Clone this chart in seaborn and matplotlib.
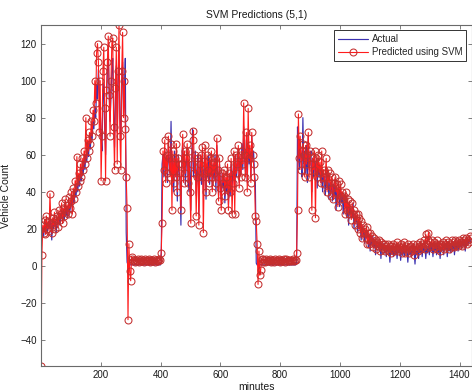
import numpy as np
import matplotlib
matplotlib.use("Agg")
import matplotlib.pyplot as plt
import seaborn as sns

# ---------------- data (sampled every 3 minutes) ----------------
morning_actual = [10, 17, 21, 16, 23, 19, 25, 18, 22, 20,
                  26, 21, 14, 24, 20, 27, 22, 18, 25, 23,
                  28, 22, 26, 31, 24, 29, 25, 33, 27, 30,
                  26, 34, 29, 32, 36, 30, 38, 34, 41, 37,
                  44, 40, 47, 43, 50, 46, 53, 49, 57, 52,
                  60, 56, 64, 59, 68, 63, 72, 68, 78, 74,
                  85, 80, 98, 90, 106, 95, 84, 70, 62, 90,
                  98, 75, 60, 88, 104, 116, 95, 78, 92, 105,
                  112, 85, 64, 90, 108, 72, 100, 118, 80, 68,
                  98, 110, 82, 90, 112, 18]
morning_pred = [-54, 6, 22, 18, 25, 17, 27, 20, 24, 19,
                39, 23, 18, 26, 22, 29, 20, 25, 27, 21,
                30, 25, 28, 34, 23, 31, 27, 36, 29, 33,
                28, 37, 31, 35, 40, 28, 42, 36, 46, 40,
                59, 43, 50, 46, 55, 48, 58, 52, 62, 55,
                80, 58, 68, 62, 72, 66, 78, 70, 84, 78,
                100, 88, 115, 120, 110, 72, 100, 46, 70, 105,
                118, 85, 46, 95, 110, 124, 92, 70, 100, 120,
                123, 75, 52, 96, 118, 55, 105, 130, 70, 52,
                105, 126, 80, 100, 74, 48]

flat1_actual = [2, 0.5, 0.6, 0.4, 0.7, 0.5, 0.6, 0.5, 0.8, 0.4,
                0.6, 0.5, 0.7, 0.4, 0.6, 0.5, 0.7, 0.5, 0.6, 0.4,
                0.7, 0.5, 0.6, 0.5, 0.8, 0.4, 0.6, 0.5, 0.7, 0.5,
                0.6, 0.4, 0.7, 0.5, 0.6, 0.5, 0.7, 0.5, 1.5]
flat1_pred = [31, -29, 12, -3, -8, 5, 3.6, 2.4, 3.4, 2.2,
              3.3, 2.5, 3.6, 2.3, 3.2, 2.6, 3.5, 2.4, 3.3, 2.2,
              3.6, 2.5, 3.2, 2.4, 3.5, 2.3, 3.4, 2.6, 3.3, 2.4,
              3.5, 2.3, 3.4, 2.5, 3.2, 2.4, 3.5, 3.0, 7]

midday_actual = [55, 60, 48, 62, 52, 58, 45, 65, 56, 50,
                 78, 46, 58, 40, 62, 50, 56, 35, 60, 52,
                 45, 22, 58, 66, 50, 60, 44, 55, 62, 48,
                 40, 56, 30, 58, 74, 48, 55, 62, 38, 52,
                 60, 28, 50, 56, 44, 62, 40, 52, 58, 36,
                 55, 48, 60, 44, 52, 58, 42, 55, 47, 60,
                 40, 65, 50, 38, 55, 45, 36, 50, 42, 48,
                 34, 45, 40, 52, 33, 46, 38, 55, 42, 50,
                 58, 40, 60, 48, 55, 62, 45, 58, 50, 66,
                 52, 75, 58, 50, 68, 45, 72, 55, 62, 48,
                 70, 58, 62, 50, 45]
midday_pred = [23, 62, 52, 68, 45, 60, 50, 70, 58, 48,
               66, 30, 62, 45, 58, 48, 66, 40, 58, 55,
               50, 30, 55, 71, 45, 62, 50, 58, 66, 45,
               62, 40, 23, 55, 68, 73, 50, 60, 27, 48,
               58, 22, 55, 60, 48, 64, 18, 50, 65, 40,
               60, 52, 45, 58, 48, 62, 40, 56, 50, 58,
               45, 69, 52, 35, 58, 42, 30, 50, 45, 52,
               38, 48, 42, 55, 30, 50, 40, 58, 28, 45,
               62, 28, 60, 50, 55, 65, 42, 60, 48, 62,
               55, 88, 60, 48, 72, 40, 85, 58, 65, 45,
               72, 60, 55, 48, 27]

flat2_actual = [1.5, 0.5, 0.7, 0.4, 0.6, 0.5, 0.8, 0.4, 0.6, 0.5,
                0.7, 0.5, 0.6, 0.4, 0.7, 0.5, 0.6, 0.5, 0.8, 0.4,
                0.6, 0.5, 0.7, 0.5, 0.6, 0.5, 0.7, 0.4, 0.6, 0.5,
                0.8, 0.4, 0.6, 0.5, 0.7, 0.5, 0.6, 0.4, 0.7, 0.5,
                0.6, 0.5, 0.7, 0.5, 0.6, 1.0]
flat2_pred = [24, 12, -10, 8, -5, -2, 4, 3.5, 2.3, 3.4,
              2.2, 3.6, 2.5, 3.3, 2.4, 3.5, 2.2, 3.4, 2.6, 3.3,
              2.3, 3.6, 2.5, 3.2, 2.4, 3.5, 2.3, 3.4, 2.5, 3.3,
              2.4, 3.6, 2.2, 3.5, 2.5, 3.3, 2.4, 3.4, 2.5, 3.2,
              2.4, 3.5, 2.6, 3.3, 3.2, 7]

evening_actual = [75, 60, 52, 66, 58, 48, 80, 55, 62, 50,
                  65, 45, 70, 52, 58, 62, 40, 55, 48, 60,
                  50, 56, 42, 58, 48, 54, 45, 52, 40, 50,
                  46, 38, 52, 42, 48, 36, 45, 40, 47, 35,
                  44, 38, 46, 30, 42, 36, 40, 32, 42, 34,
                  38, 28, 36, 32, 38, 26, 34, 22, 33, 28,
                  30, 26, 34, 20, 28, 24, 26, 18, 25, 20,
                  22, 14, 22, 17, 20, 12, 19, 15, 18, 10,
                  17, 8, 15, 12, 16, 10, 14, 6, 13, 10,
                  12, 8, 13, 4, 11, 9, 12, 7, 10, 5,
                  11, 8, 10, 2, 9, 7, 10, 5, 9, 6,
                  10, 4, 9, 7, 10, 3, 9, 6, 10, 5,
                  9, 7, 10, 2, 8, 6, 9, 5, 10, 7,
                  8, 1, 8, 6, 10, 4, 9, 7, 11, 5,
                  10, 8, 12, 4, 10, 7, 11, 6, 12, 8,
                  11, 5, 10, 8, 12, 6, 11, 7, 10, 4,
                  10, 8, 12, 6, 11, 9, 12, 5, 11, 8,
                  12, 7, 12, 9, 13, 6, 12, 9, 13, 8,
                  12, 10, 14, 9, 13, 11, 14, 8, 13, 11,
                  14, 12, 15, 13]
evening_pred = [30, 82, 58, 70, 52, 62, 66, 60, 48, 65,
                55, 60, 72, 48, 62, 55, 30, 58, 52, 62,
                26, 58, 48, 60, 50, 56, 45, 62, 48, 52,
                44, 50, 58, 40, 52, 45, 50, 38, 48, 42,
                36, 45, 48, 40, 44, 32, 46, 36, 44, 38,
                40, 36, 38, 28, 40, 30, 36, 28, 35, 30,
                25, 34, 28, 30, 22, 28, 25, 28, 20, 26,
                18, 24, 15, 22, 18, 20, 15, 21, 12, 18,
                12, 18, 13, 16, 10, 15, 12, 14, 9, 13,
                11, 14, 8, 13, 10, 12, 9, 12, 8, 11,
                9, 12, 8, 11, 7, 11, 9, 12, 8, 11,
                9, 13, 8, 11, 9, 12, 7, 11, 9, 13,
                7, 11, 9, 12, 7, 10, 8, 11, 9, 12,
                6, 10, 9, 12, 8, 11, 10, 13, 9, 12,
                10, 14, 9, 17, 12, 14, 18, 10, 13, 11,
                14, 9, 13, 10, 12, 9, 14, 11, 12, 8,
                12, 11, 13, 9, 12, 10, 14, 11, 13, 9,
                12, 10, 14, 11, 13, 10, 14, 12, 13, 11,
                14, 12, 13, 11, 15, 12, 14, 13, 15, 12,
                14, 13, 16, 15]

x_ticks = [200, 400, 600, 800, 1000, 1200, 1400]
y_ticks = [-40, -20, 0, 20, 40, 60, 80, 100, 120]

actual = np.array(morning_actual + flat1_actual + midday_actual + flat2_actual + evening_actual, float)
pred = np.array(morning_pred + flat1_pred + midday_pred + flat2_pred + evening_pred, float)
assert len(actual) == len(pred), (len(actual), len(pred))
minutes = np.arange(len(actual)) * 3

# ---------------- plot ----------------
sns.set_style("white")
plt.rcParams["font.family"] = ["Liberation Sans", "DejaVu Sans"]

fig = plt.figure(figsize=(4.72, 3.92), dpi=100)
ax = fig.add_axes([41 / 472, 26 / 392, (471.5 - 41) / 472, 341 / 392])

sns.lineplot(x=minutes, y=actual, ax=ax, color="#3a30b0", linewidth=0.85,
             label="Actual", estimator=None, sort=False)
sns.lineplot(x=minutes, y=pred, ax=ax, color="#ff1c1c", linewidth=0.8,
             marker="o", markersize=5.0, markerfacecolor="none",
             markeredgecolor="#c42e2e", markeredgewidth=0.75,
             label="Predicted using SVM", estimator=None, sort=False)

ax.set_xlim(0, 1440)
ax.set_ylim(min(actual.min(), pred.min()), max(actual.max(), pred.max()))
ax.set_xticks(x_ticks)
ax.set_yticks(y_ticks)

for s in ax.spines.values():
    s.set_color("#6a6a6a")
    s.set_linewidth(0.8)
ax.tick_params(direction="in", length=3, width=0.6, colors="#6a6a6a",
               labelcolor="#1a1a1a", labelsize=7, top=True, right=True,
               bottom=True, left=True, pad=3)

ax.set_title("SVM Predictions (5,1)", fontsize=7.5, pad=5, color="#1a1a1a")
ax.set_xlabel("minutes", fontsize=7.5, labelpad=1, color="#1a1a1a")
ax.set_ylabel("Vehicle Count", fontsize=7.5, labelpad=7, color="#1a1a1a")

leg = ax.legend(loc="upper right", bbox_to_anchor=(0.988, 0.985),
                borderaxespad=0, fontsize=7, frameon=True, fancybox=False,
                framealpha=1, edgecolor="#333333", handlelength=3.1,
                handletextpad=0.4, borderpad=0.4, labelspacing=0.3)
leg.get_frame().set_linewidth(0.7)

fig.savefig("out.png", dpi=100)
